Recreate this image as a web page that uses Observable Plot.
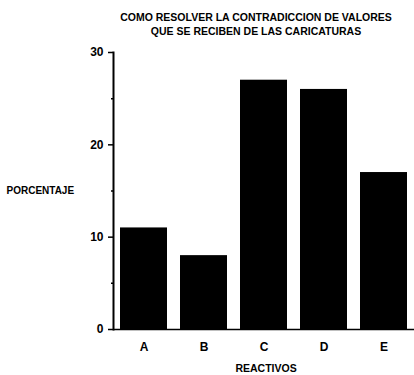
<!DOCTYPE html>
<html>
<head>
<meta charset="utf-8">
<script src="https://cdn.jsdelivr.net/npm/d3@7"></script>
<script src="https://cdn.jsdelivr.net/npm/@observablehq/plot@0.6"></script>
<style>
  html, body { margin: 0; padding: 0; background: #fff; }
  #chart { width: 414px; height: 375px; }
</style>
</head>
<body>
<div id="chart"></div>
<script>
const categories = ["A", "B", "C", "D", "E"];
const values = [11, 8, 27, 26, 17];
const yTicks = [0, 10, 20, 30];
const yMinorTicks = [5, 15, 25];
const titleLines = ["COMO RESOLVER LA CONTRADICCION DE VALORES", "QUE SE RECIBEN DE LAS CARICATURAS"];
const yLabel = "PORCENTAJE";
const xLabel = "REACTIVOS";

const data = categories.map((c, i) => ({ cat: c, value: values[i] }));

const chart = Plot.plot({
  width: 414,
  height: 375,
  marginLeft: 113,
  marginRight: 0,
  marginTop: 52,
  marginBottom: 46,
  style: { fontFamily: "'Liberation Sans', Arial, sans-serif", fontWeight: "bold", color: "#000", background: "#fff" },
  x: { domain: categories, padding: 0.22, paddingOuter: 0.1, label: null },
  y: { domain: [0, 30], label: null },
  marks: [
    Plot.barY(data, { x: "cat", y: "value", fill: "#000" }),
    Plot.axisY({ ticks: yTicks, tickSize: 5, tickPadding: 5, fontSize: 12, label: null, strokeWidth: 1.5 }),
    Plot.axisY({ ticks: yMinorTicks, tickSize: 2, tickFormat: () => "", label: null, strokeWidth: 1.5 }),
    Plot.axisX({ tickSize: 0, tickPadding: 13, fontSize: 12, label: null }),
    Plot.frame({ anchor: "left", stroke: "#000", strokeWidth: 2 }),
    Plot.ruleY([0], { stroke: "#000", strokeWidth: 1.5 }),
    Plot.text([titleLines[0]], { frameAnchor: "top", dx: -8, dy: -35, fontSize: 10.5, fontWeight: "bold", lineAnchor: "middle" }),
    Plot.text([titleLines[1]], { frameAnchor: "top", dx: -8, dy: -21, fontSize: 10.5, fontWeight: "bold", lineAnchor: "middle" }),
    Plot.text([yLabel], { frameAnchor: "left", dx: -107, textAnchor: "start", fontSize: 10, fontWeight: "bold", lineAnchor: "middle" }),
    Plot.text([xLabel], { frameAnchor: "bottom", dx: 2, dy: 39, fontSize: 10.5, fontWeight: "bold", lineAnchor: "middle" })
  ]
});
document.getElementById("chart").appendChild(chart);
</script>
</body>
</html>
